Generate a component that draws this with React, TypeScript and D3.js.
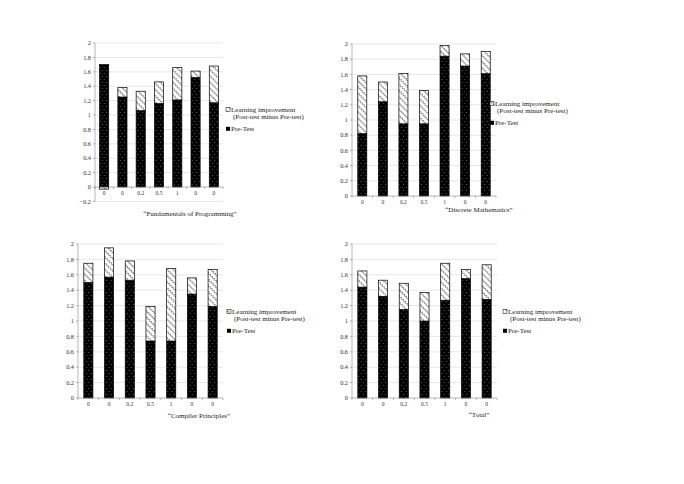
import React from "react";
import * as d3 from "d3";

const categories = ["0", "0", "0.2", "0.5", "1", "0", "0"];
const fundPre = [1.7, 1.25, 1.06, 1.16, 1.21, 1.52, 1.17];
const fundImp = [-0.03, 0.13, 0.27, 0.3, 0.45, 0.09, 0.51];
const discPre = [0.82, 1.24, 0.95, 0.95, 1.84, 1.71, 1.61];
const discImp = [0.76, 0.26, 0.66, 0.44, 0.14, 0.16, 0.29];
const compPre = [1.5, 1.57, 1.53, 0.74, 0.74, 1.35, 1.19];
const compImp = [0.25, 0.38, 0.25, 0.45, 0.94, 0.21, 0.48];
const totalPre = [1.44, 1.32, 1.15, 1.0, 1.27, 1.55, 1.28];
const totalImp = [0.21, 0.21, 0.34, 0.37, 0.48, 0.12, 0.45];
const legendLabels = ["Learning improvement", "(Post-test minus Pre-test)", "Pre-Test"];
const titles = ["“Fundamentals of Programming”", "“Discrete Mathematics”", "“Compiler Principles”", "“Total”"];

const FONT = "'Liberation Serif', 'Times New Roman', serif";

type PanelProps = {
  pre: number[];
  imp: number[];
  title: string;
  x0: number;
  x1: number;
  yTop: number;
  yBottom: number;
  yMin: number;
  pad: number;
  legendX: number;
  legendY: number;
  titleX: number;
  titleY: number;
};

function Panel(p: PanelProps) {
  const y = d3.scaleLinear().domain([p.yMin, 2]).range([p.yBottom, p.yTop]);
  const x = d3.scaleBand<number>().domain(d3.range(categories.length)).range([p.x0, p.x1]).paddingInner(p.pad).paddingOuter(p.pad / 2);
  const band = d3.scaleBand<number>().domain(d3.range(categories.length)).range([p.x0, p.x1]);
  const rows = categories.map((c, i) => ({ i, pre: p.pre[i], imp: p.imp[i] }));
  const series = d3.stack<any>().keys(["pre", "imp"]).offset(d3.stackOffsetDiverging)(rows);
  const ticks = d3.range(Math.round(p.yMin * 5), 11).map((k) => k / 5);
  const zero = y(0);
  const fills = ["url(#dots)", "url(#zig)"];
  return (
    <g>
      {ticks.map((t) => (
        <g key={t}>
          {t !== 0 && <line x1={p.x0} x2={p.x1} y1={y(t)} y2={y(t)} stroke="#d9d9d9" strokeWidth={0.6} />}
          <line x1={p.x0 - 2} x2={p.x0} y1={y(t)} y2={y(t)} stroke="#888" strokeWidth={0.6} />
          <text x={p.x0 - 4} y={y(t) + 2.2} fontSize={6.3} textAnchor="end" fontFamily={FONT} fill="#333">
            {d3.format("")(+t.toFixed(1))}
          </text>
        </g>
      ))}
      <line x1={p.x0} x2={p.x0} y1={p.yTop} y2={p.yBottom} stroke="#888" strokeWidth={0.6} />
      {series.map((s, si) =>
        s.map((d, i) => (
          <rect
            key={si + "-" + i}
            x={x(i)}
            width={x.bandwidth()}
            y={y(Math.max(d[0], d[1]))}
            height={Math.abs(y(d[0]) - y(d[1]))}
            fill={fills[si]}
            stroke="#000"
            strokeWidth={0.7}
          />
        ))
      )}
      <line x1={p.x0} x2={p.x1} y1={zero} y2={zero} stroke="#888" strokeWidth={0.6} />
      {d3.range(categories.length + 1).map((k) => {
        const bx = k < categories.length ? (band(k) as number) : p.x1;
        return <line key={k} x1={bx} x2={bx} y1={zero} y2={zero + 2} stroke="#888" strokeWidth={0.6} />;
      })}
      {categories.map((c, i) => (
        <text key={i} x={(band(i) as number) + band.bandwidth() / 2} y={zero + 8} fontSize={5.5} textAnchor="middle" fontFamily={FONT} fill="#333">
          {c}
        </text>
      ))}
      <g fontFamily={FONT} fontSize={7} fill="#222">
        <rect x={p.legendX} y={p.legendY - 4.2} width={4} height={4} fill="url(#zig)" stroke="#000" strokeWidth={0.5} />
        <text x={p.legendX + 5} y={p.legendY}>{legendLabels[0]}</text>
        <text x={p.legendX + 7} y={p.legendY + 7.5}>{legendLabels[1]}</text>
        <rect x={p.legendX} y={p.legendY + 15.3} width={4} height={4} fill="#000" />
        <text x={p.legendX + 5} y={p.legendY + 19.5}>{legendLabels[2]}</text>
      </g>
      <text x={p.titleX} y={p.titleY} fontSize={7} textAnchor="middle" fontFamily={FONT} fill="#222">
        {p.title}
      </text>
    </g>
  );
}

export default function App() {
  return (
    <svg width={684} height={484} style={{ position: "absolute", left: 0, top: 0, background: "#fff" }}>
      <defs>
        <pattern id="dots" width={4.5} height={6} patternUnits="userSpaceOnUse">
          <rect width={4.5} height={6} fill="#000" />
          <circle cx={1} cy={1.5} r={0.45} fill="#bbb" />
          <circle cx={3.25} cy={4.5} r={0.45} fill="#bbb" />
        </pattern>
        <pattern id="zig" width={2.8} height={4.4} patternUnits="userSpaceOnUse" patternTransform="rotate(45)">
          <rect width={2.8} height={4.4} fill="#fff" />
          <path d="M0,2.9 L1.4,1.3 L2.8,2.9" fill="none" stroke="#333" strokeWidth={0.65} />
        </pattern>
      </defs>
      <Panel pre={fundPre} imp={fundImp} title={titles[0]} x0={95} x1={223} yTop={43} yBottom={201.4} yMin={-0.2} pad={0.5}
        legendX={226} legendY={111.5} titleX={190} titleY={216} />
      <Panel pre={discPre} imp={discImp} title={titles[1]} x0={352} x1={496} yTop={44} yBottom={196} yMin={0} pad={0.56}
        legendX={490} legendY={105.5} titleX={479} titleY={212} />
      <Panel pre={compPre} imp={compImp} title={titles[2]} x0={78} x1={223} yTop={244} yBottom={398} yMin={0} pad={0.56}
        legendX={227} legendY={313.5} titleX={199} titleY={418} />
      <Panel pre={totalPre} imp={totalImp} title={titles[3]} x0={352} x1={497} yTop={244} yBottom={398} yMin={0} pad={0.56}
        legendX={503} legendY={313.5} titleX={479} titleY={417} />
    </svg>
  );
}
